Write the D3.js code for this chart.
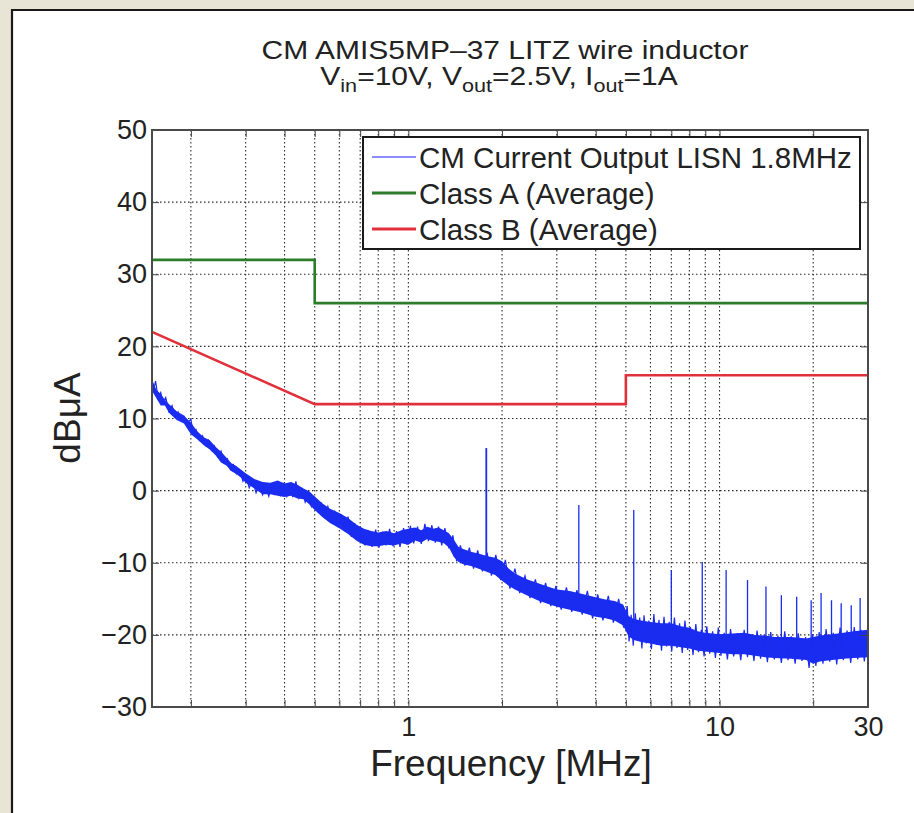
<!DOCTYPE html>
<html><head><meta charset="utf-8">
<script src="https://cdn.jsdelivr.net/npm/d3@7"></script>
<style>
html,body{margin:0;padding:0;background:#e9e5d6;}
svg{display:block;}
text{font-family:"Liberation Sans", Arial, Helvetica, sans-serif; fill:#222;}
</style></head><body>
<svg id="chart" width="914" height="813"></svg>
<script>
// ---------- data ----------
const titleLine1 = "CM AMIS5MP–37 LITZ wire inductor";
const xLabel = "Frequency [MHz]";
const yLabel = "dBμA";
const legendLabels = ["CM Current Output LISN 1.8MHz", "Class A (Average)", "Class B (Average)"];
const xDomain = [0.15, 30];
const yDomain = [-30, 50];
const gridFreqs = [0.2,0.3,0.4,0.5,0.6,0.7,0.8,0.9,1,2,3,4,5,6,7,8,9,10,20,30];
const xTickLabels = [1, 10, 30];
const yTicks = [-30,-20,-10,0,10,20,30,40,50];

// Class A limit (average)
const classAFreq = [0.15, 0.5, 0.5, 30];
const classAVal  = [32, 32, 26, 26];
// Class B limit (average)
const classBFreq = [0.15, 0.5, 5, 5, 30];
const classBVal  = [22, 12, 12, 16, 16];

// noise band envelope of the measured CM current
const bandFreq = [0.15,0.155,0.16,0.165,0.17,0.18,0.19,0.2,0.21,0.22,0.23,0.24,0.25,0.26,0.27,0.28,0.29,0.30,0.32,0.34,0.36,0.38,0.40,0.42,0.44,0.46,0.48,0.50,0.53,0.56,0.60,0.64,0.68,0.72,0.76,0.80,0.85,0.90,0.95,1.0,1.05,1.1,1.15,1.2,1.25,1.3,1.35,1.40,1.45,1.5,1.6,1.7,1.8,1.9,2.0,2.1,2.2,2.4,2.6,2.8,3.0,3.3,3.6,4.0,4.3,4.6,4.9,5.1,5.3,5.6,6.0,6.5,7.0,7.5,8.0,8.5,9.0,10,11,12,13,14,15,17,19,20,21,23,25,27,30];
const bandHigh = [15.3,14.0,13.4,12.6,12.0,11.0,10.4,9.4,8.2,7.4,7.0,6.1,5.4,4.6,3.8,3.4,2.9,2.4,1.6,1.2,1.1,1.4,1.0,1.2,0.8,0.3,-0.1,-0.8,-1.8,-2.5,-3.1,-3.8,-4.7,-5.3,-5.6,-5.8,-5.6,-5.9,-5.5,-5.3,-5.1,-5.5,-5.0,-5.3,-5.1,-5.5,-5.9,-6.8,-7.8,-8.1,-8.5,-8.8,-9.1,-9.3,-9.8,-10.8,-11.5,-12.3,-12.8,-13.3,-13.7,-13.9,-14.3,-14.8,-15.1,-15.3,-15.8,-17.4,-17.8,-18.0,-18.2,-18.4,-18.4,-18.8,-19.0,-19.5,-19.7,-19.9,-19.8,-19.7,-20.0,-20.1,-20.3,-20.3,-20.5,-20.3,-20.1,-19.9,-19.7,-19.5,-19.3];
const bandLow  = [13.8,12.8,11.8,11.8,10.8,9.8,9.3,7.8,7.1,6.3,5.7,4.9,3.9,3.5,2.7,2.3,1.8,1.1,0.3,-0.5,-0.5,-0.7,-0.9,-0.7,-1.1,-1.2,-1.9,-2.7,-3.7,-4.5,-5.2,-6.0,-6.9,-7.5,-7.7,-7.7,-7.5,-7.6,-7.3,-7.5,-6.9,-7.2,-6.7,-7.0,-7.1,-7.3,-7.9,-9.2,-9.9,-10.2,-10.5,-10.9,-11.3,-11.7,-12.5,-13.2,-13.7,-14.5,-15.2,-15.7,-16.1,-16.5,-16.9,-17.5,-17.7,-18.0,-18.7,-20.2,-20.7,-21.0,-21.2,-21.5,-21.5,-21.7,-21.9,-22.2,-22.3,-22.5,-22.7,-22.7,-22.9,-23.1,-23.2,-23.3,-23.5,-24.0,-23.7,-23.5,-23.3,-23.2,-23.1];

const traceFreq = [0.150,0.152,0.154,0.157,0.160,0.163,0.166,0.170,0.174,0.178,0.182,0.186,0.190,0.195,0.200,0.204,0.208,0.213,0.218,0.223,0.228,0.233,0.238,0.244,0.250,0.256,0.262,0.268,0.274,0.280,0.287,0.294,0.300,0.308,0.316,0.324,0.332,0.340,0.348,0.356,0.364,0.372,0.380,0.389,0.398,0.407,0.416,0.425,0.435,0.445,0.455,0.466,0.477,0.488,0.500,0.512,0.525,0.538,0.551,0.565,0.580,0.595,0.610,0.625,0.640,0.656,0.672,0.690,0.708,0.726,0.745,0.765,0.785,0.805,0.826,0.848,0.870,0.893,0.916,0.940,0.965,0.990,1.015,1.04,1.07,1.10,1.13,1.16,1.19,1.22,1.25,1.28,1.31,1.35,1.39,1.43,1.47,1.52,1.57,1.62,1.67,1.73,1.79,1.85,1.91,1.98,2.05,2.12,2.20,2.28,2.37,2.46,2.56,2.66,2.76,2.87,2.98,3.10,3.22,3.35,3.48,3.62,3.76,3.91,4.06,4.22,4.39,4.56,4.74,4.92,
  5.05,5.12,5.20,5.28,5.36,5.45,5.54,5.63,5.72,5.82,5.93,6.04,6.15,6.27,6.39,6.51,6.63,6.76,6.89,7.02,7.16,7.30,7.44,7.59,7.74,7.90,8.06,8.22,8.39,8.56,8.74,8.92,9.10,9.30,9.50,9.70,9.91,10.1,10.35,10.6,10.85,11.1,11.4,11.7,12.0,12.3,12.6,12.9,13.2,13.55,13.9,14.25,14.6,15.0,15.4,15.8,16.2,16.6,17.0,17.5,17.9,18.4,18.9,19.4,19.9,20.4,20.9,21.5,22.0,22.6,23.2,23.8,24.4,25.0,25.7,26.4,27.1,27.8,28.5,29.2,30.0];
const traceVal  = [15.5,14.0,15.2,12.8,13.6,12.2,12.9,11.0,11.8,10.2,10.9,9.8,10.3,9.4,9.9,7.8,8.4,7.0,7.6,6.3,7.0,5.6,6.2,4.7,5.5,3.8,4.4,2.9,3.6,2.3,2.9,1.3,2.1,0.4,1.4,-0.3,0.9,-0.6,0.6,-0.8,0.8,-0.4,1.2,-0.6,0.9,-0.8,0.5,-0.9,1.3,-1.0,0.2,-1.6,-0.4,-2.2,-1.0,-2.8,-1.8,-3.6,-2.2,-4.2,-2.9,-4.9,-3.5,-5.6,-3.6,-6.4,-4.5,-7.0,-5.2,-7.6,-5.6,-7.8,-5.4,-7.9,-5.7,-7.6,-5.3,-7.7,-5.6,-7.8,-5.2,-7.5,-4.9,-7.3,-5.0,-7.4,-4.6,-7.0,-4.8,-7.2,-5.0,-7.6,-5.2,-8.0,-6.2,-9.8,-7.6,-10.4,-7.9,-10.8,-8.3,-11.2,-8.6,-11.8,-8.9,-12.4,-9.6,-13.6,-10.8,-14.2,-11.8,-14.9,-12.3,-15.6,-12.8,-16.0,-13.2,-16.5,-13.4,-16.8,-13.8,-17.2,-13.9,-17.7,-14.4,-18.0,-14.6,-18.3,-15.0,-19.0,
  -16.0,-20.9,-17.2,-21.5,-17.0,-20.6,-17.6,-21.9,-17.3,-21.2,-18.0,-22.0,-17.1,-21.4,-17.9,-22.2,-17.5,-21.6,-18.2,-22.3,-17.6,-21.8,-18.4,-22.5,-18.0,-22.1,-18.9,-22.8,-18.5,-22.4,-19.3,-23.0,-18.8,-22.6,-19.5,-23.2,-19.0,-22.9,-19.7,-23.4,-19.2,-23.0,-19.8,-23.5,-19.3,-23.1,-19.9,-23.6,-19.4,-23.3,-20.0,-23.8,-19.6,-23.4,-20.1,-23.9,-19.5,-23.5,-20.2,-24.0,-19.8,-23.6,-20.3,-24.6,-19.9,-24.3,-19.6,-24.0,-19.2,-23.7,-19.7,-24.1,-19.0,-23.5,-19.4,-23.9,-18.9,-23.4,-19.3,-23.7,-18.8];

// harmonic spikes
const spikeFreq = [1.78,3.53,5.3,7.0,8.8,10.5,12.3,14.1,15.8,17.7,19.7,21.2,22.9,24.6,26.5,28.3];
const spikePeak = [5.9,-2.0,-2.7,-11.0,-9.9,-11.0,-12.4,-13.3,-14.5,-14.7,-15.2,-14.2,-15.2,-15.6,-15.9,-14.9];
const spikeBase = [-9.5,-15,-19,-20,-20.5,-21,-21,-21.5,-21.5,-22,-22,-22,-22,-22,-21.5,-21.5];

// ---------- drawing ----------
const svg = d3.select("#chart");
const L = 152, R = 868, T = 130, B = 707;
const x = d3.scaleLog().domain(xDomain).range([L, R]);
const y = d3.scaleLinear().domain(yDomain).range([B, T]);

// white panel with dark top/left edges
svg.append("rect").attr("x", 11).attr("y", 9).attr("width", 950).attr("height", 850).attr("fill", "#fff");
svg.append("path").attr("d", "M12,813 V10 H914").attr("fill", "none").attr("stroke", "#1a1a1a").attr("stroke-width", 2.2);

// plot background
svg.append("rect").attr("x", L).attr("y", T).attr("width", R - L).attr("height", B - T).attr("fill", "#fff");

// grid
const grid = svg.append("g").attr("stroke", "#2a2a2a").attr("stroke-width", 1.1).attr("stroke-dasharray", "1.5,2.5");
grid.selectAll("line.v").data(gridFreqs.filter(f => f < 30)).join("line")
  .attr("class", "v").attr("x1", d => x(d)).attr("x2", d => x(d)).attr("y1", T).attr("y2", B);
grid.selectAll("line.h").data(yTicks.filter(v => v > yDomain[0] && v < yDomain[1])).join("line")
  .attr("class", "h").attr("x1", L).attr("x2", R).attr("y1", d => y(d)).attr("y2", d => y(d));

// clip
svg.append("clipPath").attr("id", "clip").append("rect").attr("x", L).attr("y", T).attr("width", R - L).attr("height", B - T);
const plot = svg.append("g").attr("clip-path", "url(#clip)");

const blue = "#1a2cf0";
// measured band
const band = bandFreq.map((f, i) => ({f, hi: bandHigh[i], lo: bandLow[i]}));
plot.append("path").datum(band)
  .attr("d", d3.area().x(d => x(d.f)).y0(d => y(d.lo)).y1(d => y(d.hi)))
  .attr("fill", blue);

const trace = traceFreq.map((f, i) => ({f, v: traceVal[i]}));
plot.append("path").datum(trace)
  .attr("d", d3.line().x(d => x(d.f)).y(d => y(d.v)))
  .attr("fill", "none").attr("stroke", blue).attr("stroke-width", 1.2).attr("stroke-linejoin", "miter");

plot.selectAll("line.spike").data(spikeFreq.map((f, i) => ({f, p: spikePeak[i], b: spikeBase[i]}))).join("line")
  .attr("class", "spike")
  .attr("x1", d => x(d.f)).attr("x2", d => x(d.f))
  .attr("y1", d => y(d.b)).attr("y2", d => y(d.p))
  .attr("stroke", blue).attr("stroke-width", (d, i) => i === 0 ? 1.8 : 1.3);

// limits
const lim = d3.line().x(d => x(d.f)).y(d => y(d.v));
plot.append("path").datum(classAFreq.map((f, i) => ({f, v: classAVal[i]})))
  .attr("d", lim).attr("fill", "none").attr("stroke", "#2b7d2b").attr("stroke-width", 2.6);
plot.append("path").datum(classBFreq.map((f, i) => ({f, v: classBVal[i]})))
  .attr("d", lim).attr("fill", "none").attr("stroke", "#e0303a").attr("stroke-width", 2.6);

// axes (ticks inward)
const fmtX = d => xTickLabels.includes(d) ? String(d) : "";
const axB = svg.append("g").attr("transform", `translate(0,${B})`)
  .call(d3.axisBottom(x).tickValues(gridFreqs).tickFormat(fmtX).tickSize(-7).tickPadding(10));
const axT = svg.append("g").attr("transform", `translate(0,${T})`)
  .call(d3.axisTop(x).tickValues(gridFreqs).tickFormat("").tickSize(-7));
const axL = svg.append("g").attr("transform", `translate(${L},0)`)
  .call(d3.axisLeft(y).tickValues(yTicks).tickFormat(d => d < 0 ? "−" + Math.abs(d) : String(d)).tickSize(-7).tickPadding(5));
const axR = svg.append("g").attr("transform", `translate(${R},0)`)
  .call(d3.axisRight(y).tickValues(yTicks).tickFormat("").tickSize(-7));
[axB, axT, axL, axR].forEach(g => {
  g.select(".domain").remove();
  g.selectAll(".tick line").attr("stroke", "#444").attr("stroke-width", 1);
  g.selectAll("text").attr("font-size", 27).attr("fill", "#222")
    .attr("font-family", '"Liberation Sans", Arial, Helvetica, sans-serif');
});
svg.append("rect").attr("x", L).attr("y", T).attr("width", R - L).attr("height", B - T)
  .attr("fill", "none").attr("stroke", "#4a4a4a").attr("stroke-width", 2);

// legend
const lg = svg.append("g");
lg.append("rect").attr("x", 363).attr("y", 137).attr("width", 497).attr("height", 112)
  .attr("fill", "#fff").attr("stroke", "#1a1a1a").attr("stroke-width", 2);
const legColors = ["#8a8cff", "#2b7d2b", "#e0303a"];
const legWidths = [2, 3, 3];
legendLabels.forEach((t, i) => {
  const cy = 157 + i * 36;
  lg.append("line").attr("x1", 372).attr("x2", 416).attr("y1", cy).attr("y2", cy)
    .attr("stroke", legColors[i]).attr("stroke-width", legWidths[i]);
  lg.append("text").attr("x", 419).attr("y", cy + 10.5).attr("font-size", 29.5).text(t);
});

// titles
const t1 = svg.append("g").attr("transform", "translate(505,59) scale(1.2,1)");
t1.append("text").attr("text-anchor", "middle").attr("font-size", 25).text(titleLine1);
const t2 = svg.append("g").attr("transform", "translate(499,85) scale(1.2,1)");
const t2t = t2.append("text").attr("text-anchor", "middle").attr("font-size", 25);
const line2Parts = [["V",0],["in",1],["=10V, V",0],["out",1],["=2.5V, I",0],["out",1],["=1A",0]];
line2Parts.forEach(([s, sub], i) => {
  const prevSub = i > 0 ? line2Parts[i-1][1] : 0;
  const dy = sub && !prevSub ? 7 : (!sub && prevSub ? -7 : 0);
  t2t.append("tspan").attr("dy", dy).attr("font-size", sub ? 18 : 25).text(s);
});

// axis labels
svg.append("text").attr("x", 511).attr("y", 776).attr("text-anchor", "middle").attr("font-size", 37).text(xLabel);
svg.append("text").attr("transform", "translate(80,418) rotate(-90)").attr("text-anchor", "middle").attr("font-size", 37).text(yLabel);
</script>
</body></html>
